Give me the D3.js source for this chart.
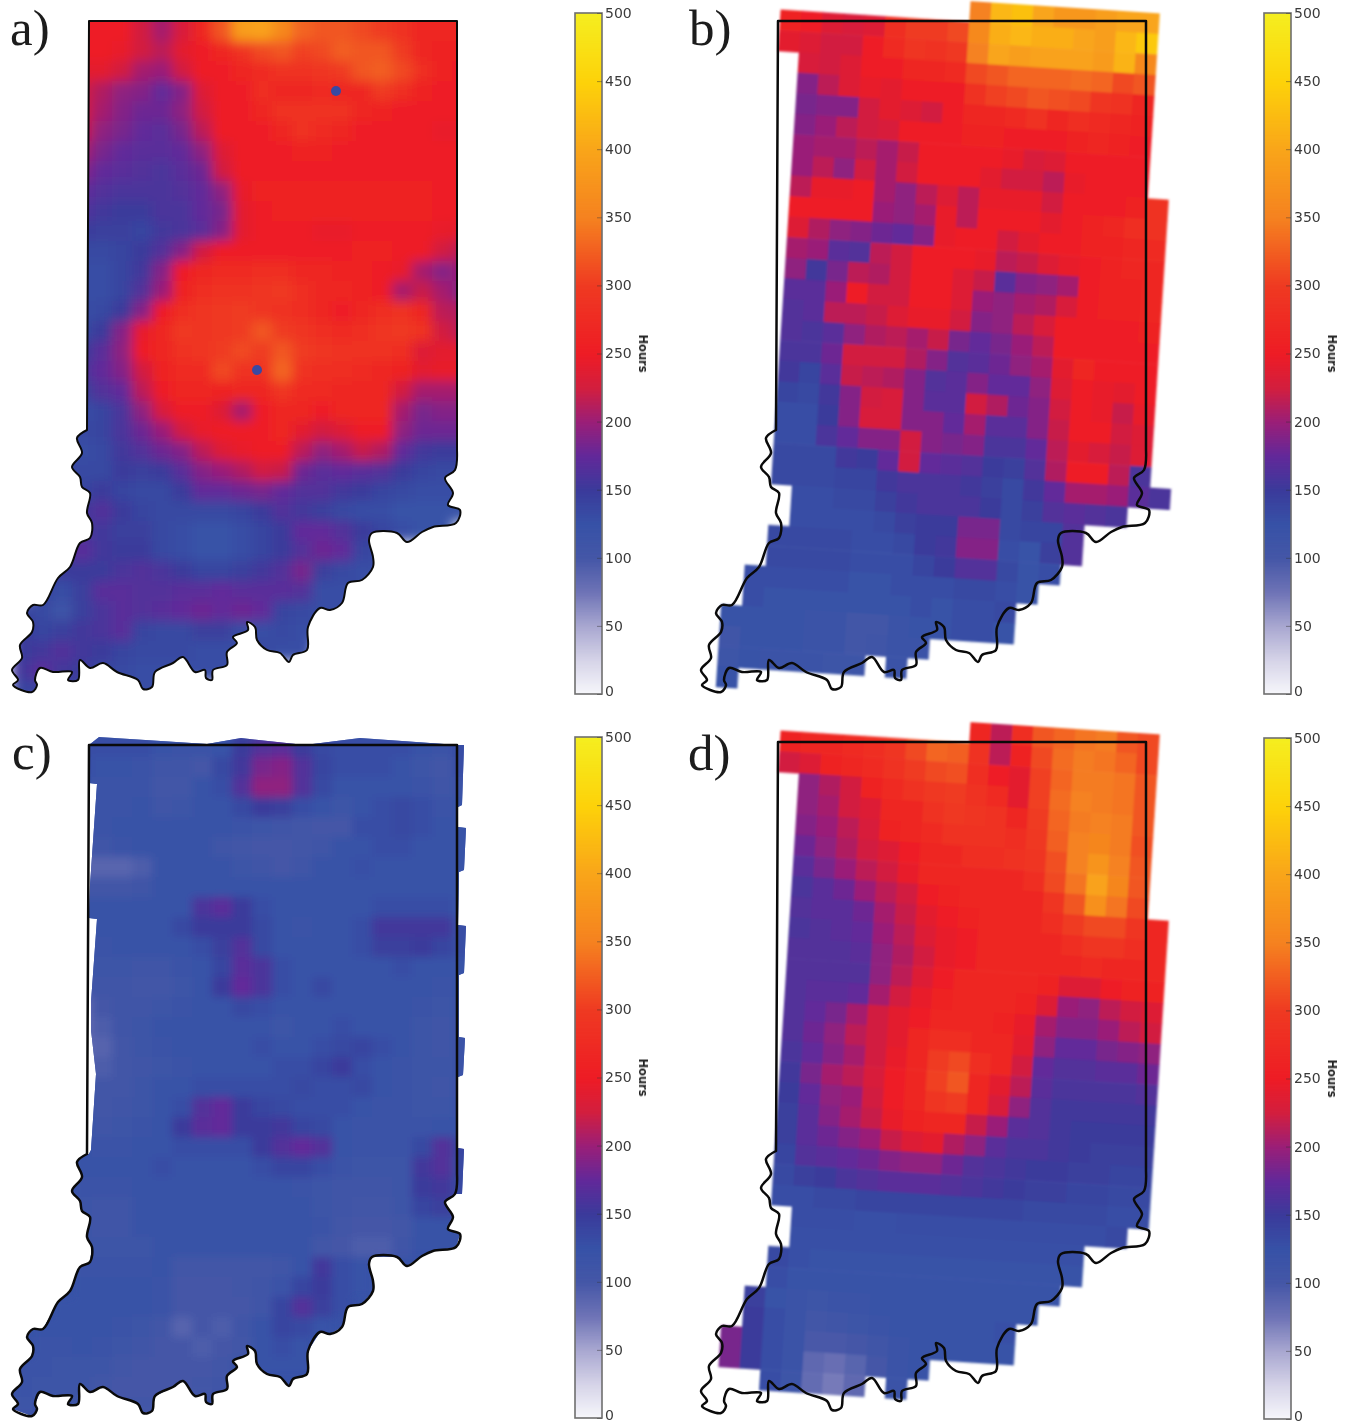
<!DOCTYPE html>
<html>
<head>
<meta charset="utf-8">
<script src="https://cdn.jsdelivr.net/npm/d3@7"></script>
<style>
	body { margin: 0; background: #fff; }
	svg { display: block; }
</style>
</head>
<body>
<script>
const n = null;

// colour bar
const barDomain = [0, 25, 50, 75, 100, 125, 150, 175, 200, 225, 250, 300, 350, 400, 450, 500];
const barColors = ["#f7f7fb", "#d6d4e8", "#a9a8d1", "#6f74b6", "#4557a7", "#3752a7", "#3b3b9b", "#62299a", "#9a1f78", "#d21f3f", "#ee1c25", "#ef3a22", "#f58220", "#f9a51a", "#fdd20a", "#f5ee20"];
const barTicks = [0, 50, 100, 150, 200, 250, 300, 350, 400, 450, 500];

// state border, in pixels from the north west corner
const border = [[0,0],[368,0],[368,429],[366,449],[356,457],[364,472],[359,484],[371,489],[367,502],[344,506],[333,511],[318,521],[308,512],[283,512],[280,519],[284,536],[284,546],[273,559],[259,562],[253,582],[241,589],[231,587],[219,606],[218,629],[204,634],[200,641],[191,632],[178,629],[168,619],[166,606],[158,601],[159,609],[144,616],[148,622],[138,631],[138,644],[124,649],[123,659],[117,657],[116,649],[106,651],[94,636],[84,642],[66,651],[63,666],[54,668],[49,659],[28,651],[14,642],[1,647],[-9,639],[-11,659],[-21,659],[-17,651],[-36,651],[-49,647],[-54,659],[-52,664],[-57,671],[-76,664],[-71,659],[-77,649],[-67,637],[-69,624],[-57,611],[-56,601],[-62,592],[-56,584],[-46,584],[-31,557],[-19,546],[-9,522],[1,517],[3,502],[-2,492],[1,472],[-7,466],[-9,456],[-17,446],[-7,432],[-12,417],[-2,409]];

// area with data north of the Ohio bend in panel c
const coverageC = [[0,0],[10,-8],[118,-1],[152,-7],[216,0],[271,-7],[369,0],[375,0],[373,60],[369,62],[369,82],[377,83],[375,125],[370,127],[369,180],[377,181],[375,228],[370,230],[370,292],[376,293],[374,330],[369,332],[369,403],[375,404],[373,449],[0,449],[0,409],[2,405],[7,329],[2,285],[2,257],[8,174],[0,173],[1,140],[8,39],[0,38]];

// the two small low spots in panel a: x, y, hours
const lowSpots = [[247,70,135],[168,349,135]];

// hours per cell, north to south, west to east
// the first row of panel a lies just north of the border, so the blur keeps the edge colour
const hoursA = [
	[n,n,255,255,255,250,225,205,230,270,320,390,395,360,330,320,320,310,300,285,270,265,265],
	[n,n,255,255,255,250,225,205,230,270,320,390,395,360,330,320,320,310,300,285,270,265,265],
	[n,n,255,255,255,245,225,215,240,255,265,285,310,320,305,310,325,320,320,300,270,260,260],
	[n,n,240,240,240,225,205,200,225,250,255,265,275,285,285,290,300,320,325,310,280,260,255],
	[n,n,225,225,210,195,190,175,190,235,255,255,280,270,270,275,270,270,300,280,260,255,255],
	[n,n,225,225,205,190,180,180,195,225,255,255,265,285,285,285,285,265,260,255,255,250,250],
	[n,n,220,220,195,185,175,170,185,215,255,255,255,270,285,275,265,255,255,255,255,245,245],
	[n,n,205,205,185,175,170,170,175,195,235,255,255,255,260,260,255,255,255,255,255,250,250],
	[n,n,190,190,175,170,165,160,170,180,225,255,255,255,255,255,255,255,255,255,255,255,255],
	[n,n,175,175,165,160,160,160,165,175,195,245,260,260,260,260,260,260,260,260,260,255,255],
	[n,n,165,165,155,150,150,160,160,175,185,240,255,260,260,260,260,260,260,260,260,250,250],
	[n,n,150,150,145,145,140,155,160,170,190,240,250,250,250,245,245,250,255,255,255,245,240],
	[n,n,135,135,135,140,150,165,190,225,250,255,255,255,255,255,255,260,260,255,250,225,215],
	[n,n,130,130,130,140,155,190,255,265,275,275,280,280,270,265,260,260,255,245,205,190,200],
	[n,n,130,130,130,140,165,200,260,280,285,285,290,295,280,270,265,260,255,205,220,205,190],
	[n,n,130,130,135,150,190,255,280,290,295,300,290,285,280,265,255,265,280,285,270,215,210],
	[n,n,135,135,150,190,245,270,295,290,295,300,320,300,290,280,275,280,290,295,285,225,215],
	[n,n,150,150,170,195,250,270,285,290,300,310,300,320,300,290,285,285,285,280,235,240,240],
	[n,n,160,160,175,190,225,260,275,275,310,285,285,330,285,280,280,275,270,260,240,245,245],
	[n,n,145,145,165,175,215,255,265,265,260,270,265,290,275,275,270,270,265,225,205,205,205],
	[n,n,130,130,140,160,195,230,255,255,235,205,250,265,270,255,270,265,265,205,185,190,190],
	[n,n,135,135,140,160,180,200,225,245,255,255,255,265,240,225,235,250,255,195,180,180,180],
	[n,n,130,130,135,155,165,180,190,215,235,245,255,250,215,195,205,220,210,175,155,150,150],
	[n,n,135,135,135,150,145,150,170,190,200,210,225,220,180,170,175,170,165,150,140,135,135],
	[n,n,140,140,150,140,135,135,150,175,175,180,185,175,165,165,155,150,140,135,130,130,130],
	[n,n,155,155,165,150,140,135,135,135,135,140,150,165,155,145,135,130,130,125,125,125,125],
	[n,n,160,160,155,145,145,135,130,125,125,130,140,150,175,175,165,150,140,130,125,125],
	[n,n,160,170,155,150,150,135,130,125,125,130,140,150,165,180,175,140,135],
	[n,150,150,150,150,160,165,160,150,140,140,145,155,165,185,145,135,130,130],
	[n,140,130,145,170,170,165,165,170,170,175,170,170,170,165,130,130,130],
	[140,135,115,145,160,170,165,170,175,180,175,180,175,140,135,130,130],
	[150,140,145,155,160,170,140,135,135,145,145,130,130,135,130,130],
	[150,155,165,155,150,140,135,135,135,130,130,130,135,130,130],
	[155,170,155,150,140,135,130,130,130,130,130,130],
	[140,140,140,135,135,130,130,130]
];

const hoursB = [
	[n,n,n,n,n,n,n,n,n,n,350,420,430,400,380,380,390,400,400],
	[n,260,255,235,230,235,280,300,300,310,360,410,420,410,410,400,390,420,440],
	[n,240,235,225,225,250,275,290,285,295,350,400,390,395,395,395,385,415,360],
	[n,n,230,225,235,255,255,270,265,275,310,320,330,330,330,335,330,310,320],
	[n,n,190,215,235,245,240,250,255,255,285,305,310,320,315,310,290,285,270],
	[n,n,185,190,190,225,240,235,225,250,265,265,275,285,270,280,275,265,260],
	[n,n,190,200,215,225,230,250,255,255,260,260,255,255,255,260,265,260,255],
	[n,n,200,205,205,215,205,220,255,255,255,250,245,230,235,250,255,255,255],
	[n,n,200,215,195,225,205,225,255,255,250,240,225,225,215,245,255,255,255],
	[n,n,215,245,245,250,205,195,215,235,215,245,245,245,225,250,255,255,260,285],
	[n,n,255,255,250,250,200,195,205,245,215,255,255,255,240,255,260,265,280,285],
	[n,n,235,210,195,190,180,175,190,245,250,255,225,240,250,255,260,260,270,275],
	[n,n,205,200,170,165,215,225,250,255,250,245,215,220,235,245,255,260,265,270],
	[n,n,195,155,185,215,210,225,255,255,235,220,170,190,195,205,255,260,260,265],
	[n,n,170,170,200,250,225,225,255,255,235,200,195,205,210,230,255,260,260,265],
	[n,n,165,170,215,215,220,235,245,245,225,190,195,215,230,255,255,255,255,260],
	[n,n,165,160,170,195,210,215,205,220,185,175,185,200,215,250,255,255,255,255],
	[n,n,160,160,180,225,225,225,210,190,165,170,180,195,205,240,265,255,250,255],
	[n,n,155,140,170,220,215,210,190,165,170,190,175,175,195,235,250,245,240,250],
	[n,n,140,135,155,190,225,230,190,170,170,225,210,180,190,225,250,245,220,245],
	[n,n,130,130,150,190,230,230,190,190,175,205,170,170,190,220,250,250,225,235],
	[n,n,130,130,160,175,190,190,225,190,185,190,160,160,175,215,240,230,220,235],
	[n,n,135,135,135,155,150,175,225,175,170,165,150,145,165,210,250,250,215,160],
	[n,n,135,135,135,140,140,155,160,160,160,155,145,135,155,175,205,205,200,170,160],
	[n,n,n,130,130,135,135,145,155,160,160,160,150,135,145,165,170,165,160],
	[n,n,n,130,130,130,130,135,145,150,150,185,185,135,140,140,165],
	[n,n,135,135,135,135,130,130,135,150,155,190,190,130,125,145,165],
	[n,n,135,135,135,135,130,130,130,140,150,165,165,135,125,130],
	[n,130,130,130,130,130,125,125,130,130,130,135,135,130,125],
	[n,130,125,125,125,125,125,125,125,130,125,130,130,135],
	[125,125,125,125,120,120,105,105,120,125,125,130,130,125],
	[110,125,125,125,120,120,105,110,120,120],
	[115,125,120,120,120,115,115,n,120],
	[125]
];

const hoursC = [
	[n,n,n,130,130,130,130,125,120,120,125,150,165,170,150,135,130,130,130,130,125,120,130],
	[n,n,n,130,125,125,120,110,110,100,135,155,185,190,165,140,130,130,130,125,115,105,130],
	[n,n,n,125,120,120,120,105,105,125,130,165,195,195,165,135,125,125,125,125,120,110,120],
	[n,n,n,125,120,120,125,110,115,125,125,135,150,145,130,125,115,125,130,135,130,120,125],
	[n,n,n,110,120,125,125,125,125,125,125,120,115,110,105,100,100,130,130,135,130,125,125],
	[n,n,n,105,110,120,125,125,125,125,110,105,100,100,105,110,125,125,130,130,125,125,125],
	[n,n,n,88,88,88,95,125,125,125,125,115,110,100,110,125,125,128,125,125,125,125,125],
	[n,n,n,105,105,105,110,125,125,125,125,125,125,125,125,125,125,125,125,125,125,125,125],
	[n,n,n,125,125,125,125,125,125,160,170,150,130,125,125,125,125,125,130,130,130,130,125],
	[n,n,n,125,125,125,125,125,135,150,150,150,135,125,120,125,125,130,155,155,155,155,130],
	[n,n,n,120,120,125,125,125,125,130,145,165,135,125,125,125,125,130,145,145,150,140,130],
	[n,n,n,115,115,115,110,110,120,125,140,170,160,130,125,125,125,125,125,130,125,125,125],
	[n,n,n,110,110,110,105,105,115,125,150,175,160,130,125,135,125,125,125,125,125,120,125],
	[n,n,n,85,100,110,110,115,120,125,125,135,130,125,125,125,125,125,125,125,120,115,125],
	[n,n,n,85,95,110,115,125,125,125,125,125,125,115,125,125,130,125,125,125,115,110,120],
	[n,n,n,85,90,105,115,120,125,125,125,125,130,125,125,130,135,140,130,125,115,110,120],
	[n,n,n,95,95,105,110,115,120,125,125,125,125,130,130,140,150,130,125,120,115,115,120],
	[n,n,n,125,105,105,115,125,125,130,130,130,130,130,135,130,130,135,125,120,115,110,120],
	[n,n,n,125,105,110,115,125,130,165,175,150,140,135,130,130,130,125,120,120,115,115,125],
	[n,n,n,125,110,115,120,125,150,170,175,150,150,155,140,135,125,120,120,120,120,125,125],
	[n,n,n,125,120,120,125,125,130,130,130,130,150,165,175,165,125,120,120,120,135,165,140],
	[n,n,n,125,125,125,125,130,125,125,125,125,130,140,140,130,120,115,115,115,155,165,135],
	[n,n,n,120,120,120,125,125,125,125,125,125,125,125,120,115,110,110,110,115,150,155,135],
	[n,n,n,115,110,110,125,125,125,125,125,125,125,125,125,115,110,105,105,115,140,145,135],
	[n,n,n,115,110,110,125,125,125,125,125,125,125,125,125,120,105,100,100,105,125,125,125],
	[n,n,n,115,115,115,115,125,125,125,125,125,125,125,125,105,100,95,95,110,125,125,125],
	[n,n,n,120,120,120,120,125,105,105,105,105,105,110,125,155,130,125],
	[n,n,n,125,125,125,125,120,100,100,100,105,110,120,140,150,130,125],
	[n,n,125,125,125,125,125,120,100,100,100,100,110,140,165,145,130],
	[n,125,125,125,125,120,115,105,90,100,95,110,125,140,135,125],
	[n,120,120,125,120,115,110,100,100,95,100,105,125,130,125],
	[120,120,115,115,115,105,100,100,100,100,105,125,125,125,125],
	[120,115,115,115,105,100,100,100,100,105,110],
	[115,120,120,115,105,105,105,105,105]
];

const hoursD = [
	[n,n,n,n,n,n,n,n,n,n,270,215,280,320,330,340,345,320,310],
	[n,260,265,270,275,280,290,310,330,325,285,215,260,310,335,345,340,330,310],
	[n,225,235,260,265,275,285,300,310,315,280,250,240,305,330,345,345,340,320],
	[n,n,195,210,225,260,275,285,295,300,285,275,240,305,335,350,345,340,320],
	[n,n,195,205,225,235,265,270,285,295,290,285,270,300,330,345,350,345,320],
	[n,n,190,200,215,230,260,265,275,285,285,285,280,295,325,350,355,345,315],
	[n,n,180,195,210,225,235,250,265,270,280,280,285,290,315,350,375,350,320],
	[n,n,170,185,200,215,225,245,265,265,265,270,270,280,310,340,395,355,320],
	[n,n,160,170,180,200,215,225,250,260,265,270,270,270,290,320,370,340,310],
	[n,n,165,170,170,180,205,220,240,250,260,265,265,265,280,300,310,310,290,270],
	[n,n,160,165,170,175,200,215,235,245,255,265,265,265,270,280,290,290,280,270],
	[n,n,165,165,165,170,195,210,225,245,255,265,265,265,265,265,275,265,265,265],
	[n,n,165,165,165,165,195,215,235,255,265,265,265,265,260,235,235,250,260,260],
	[n,n,165,170,170,175,205,225,245,260,265,265,265,260,235,200,195,215,225,235],
	[n,n,165,175,185,205,225,240,255,265,265,265,260,245,205,190,190,200,215,225],
	[n,n,165,180,195,215,225,240,265,280,280,270,265,240,195,175,175,185,190,195],
	[n,n,160,175,190,205,225,245,270,300,310,280,265,225,175,165,165,170,170,180],
	[n,n,155,185,205,215,230,250,270,305,320,270,240,215,170,160,160,160,160,165],
	[n,n,150,175,195,200,225,250,265,290,300,265,230,195,165,155,155,155,155,155],
	[n,n,145,170,190,205,220,245,260,265,265,220,200,170,165,155,150,150,150,150],
	[n,n,145,170,180,190,200,220,235,240,210,195,170,160,160,155,150,145,145,145],
	[n,n,140,165,170,175,180,190,195,195,180,165,160,155,150,150,145,145,140,140],
	[n,n,135,145,150,160,165,170,170,170,165,160,155,150,145,145,140,140,135,135],
	[n,n,130,130,135,135,140,140,140,140,140,140,140,140,135,135,135,135,130,130],
	[n,n,n,130,130,130,128,128,130,130,130,130,130,130,130,130,130,130,135],
	[n,n,n,128,128,128,128,128,128,128,128,128,128,128,128,128,128],
	[n,n,135,128,125,125,125,125,125,125,125,125,125,125,125,125,125],
	[n,n,130,125,125,125,125,125,125,125,125,125,125,125,125,125],
	[n,145,125,118,115,118,120,125,125,125,125,125,125,125,125],
	[n,150,130,120,105,110,115,120,125,125,125,125,125,128],
	[185,150,130,120,98,98,102,110,120,125,125,125,125,125],
	[185,150,130,120,85,80,88,100,120,125],
	[n,n,130,115,82,72,85,n,120]
];

const width = 1351;
const height = 1424;

const color = d3.scaleLinear().domain(barDomain).range(barColors).clamp(true);

const svg = d3
	.select("body")
	.append("svg")
	.attr("width", width)
	.attr("height", height)
	.style("background-color", "#fff");

const defs = svg.append("defs");

const addBlur = (id, amount) => {
	defs
		.append("filter")
		.attr("id", id)
		.attr("x", "-5%")
		.attr("y", "-5%")
		.attr("width", "110%")
		.attr("height", "110%")
		.append("feGaussianBlur")
		.attr("stdDeviation", amount);
};
addBlur("blurWide", 6);
addBlur("blurMid", 4);
addBlur("blurSoft", 1.1);
addBlur("blurText", 0.35);

// straight along the north and east edges, smooth along the rivers
const riverLine = d3.line().curve(d3.curveCatmullRom.alpha(0.5));
const straightLine = d3.line();
const borderPath = () =>
	straightLine(border.slice(0, 3)) + "L" + riverLine(border.slice(2)).slice(1) + "Z";

const toCells = (grid) =>
	grid
		.flatMap((row, r) => row.map((v, c) => ({ r, c, v })))
		.filter((d) => d.v !== null);

const drawCells = (parent, grid, x, y) => {
	parent
		.selectAll("rect")
		.data(toCells(grid))
		.join("rect")
		.attr("x", (d) => x(d.c))
		.attr("y", (d) => y(d.r))
		.attr("width", x.bandwidth() + 0.6)
		.attr("height", y.bandwidth() + 0.6)
		.attr("fill", (d) => color(d.v));
};

const drawBorder = (parent, cornerX, cornerY, strokeWidth) => {
	parent
		.append("path")
		.attr("transform", `translate(${cornerX},${cornerY})`)
		.attr("d", borderPath())
		.attr("fill", "none")
		.attr("stroke", "#0a0a0a")
		.attr("stroke-width", strokeWidth)
		.attr("stroke-linejoin", "round");
};

const drawColorbar = (left, top, label) => {
	const barHeight = 681;
	const barWidth = 27;
	const barY = d3.scaleLinear().domain([0, 500]).range([barHeight, 0]);
	const g = svg.append("g").attr("transform", `translate(${left},${top})`);

	g.selectAll("rect")
		.data(d3.range(0, 500))
		.join("rect")
		.attr("x", 0)
		.attr("y", (d) => barY(d + 1))
		.attr("width", barWidth)
		.attr("height", (d) => (d === 0 ? barHeight / 500 : barHeight / 500 + 1))
		.attr("fill", (d) => color(d + 0.5));

	g.append("rect")
		.attr("width", barWidth)
		.attr("height", barHeight)
		.attr("fill", "none")
		.attr("stroke", "#6f6f6f")
		.attr("stroke-width", 1.6);

	const axis = g
		.append("g")
		.attr("transform", `translate(${barWidth},0)`)
		.attr("filter", "url(#blurText)")
		.call(
			d3.axisRight(barY).tickValues(barTicks).tickSizeInner(-5).tickSizeOuter(0).tickPadding(3)
		);
	axis.select(".domain").remove();
	axis.selectAll("line").attr("stroke", "#333").attr("stroke-opacity", 0.45);
	axis
		.selectAll("text")
		.attr("font-family", "DejaVu Sans")
		.attr("font-size", 14)
		.attr("fill", "#3a3a3a");
	axis
		.selectAll("text")
		.filter((d) => d === 0)
		.attr("dy", "0.13em");

	g.append("text")
		.attr("transform", `translate(64,${barHeight * 0.5}) rotate(90)`)
		.attr("text-anchor", "middle")
		.attr("font-family", "DejaVu Sans")
		.attr("font-weight", "bold")
		.attr("font-size", 11.5)
		.attr("fill", "#222")
		.attr("filter", "url(#blurText)")
		.text(label);
};

const drawLetter = (x, y, letter) => {
	svg
		.append("text")
		.attr("x", x)
		.attr("y", y)
		.attr("font-family", "Liberation Serif")
		.attr("font-size", 51)
		.attr("fill", "#1c1c1c")
		.text(letter);
};

// fine panels a and c, unrotated cells
const fineX = d3.scaleBand().domain(d3.range(23)).range([12, 472]);
const fineRowsA = d3.scaleBand().domain(d3.range(35)).range([1, 701]);
const fineRowsC = d3.scaleBand().domain(d3.range(34)).range([737, 1417]);

// panel a
defs
	.append("clipPath")
	.attr("id", "clipA")
	.append("path")
	.attr("transform", "translate(89,21)")
	.attr("d", borderPath());

const panelA = svg.append("g").attr("clip-path", "url(#clipA)");
drawCells(panelA.append("g").attr("filter", "url(#blurWide)"), hoursA, fineX, fineRowsA);

panelA
	.append("g")
	.attr("transform", "translate(89,21)")
	.selectAll("circle")
	.data(lowSpots)
	.join("circle")
	.attr("cx", (d) => d[0])
	.attr("cy", (d) => d[1])
	.attr("r", 5)
	.attr("fill", (d) => color(d[2]));

drawBorder(svg, 89, 21, 2);

// coarse panels b and d sit on a slightly rotated grid
const coarseX = d3.scaleBand().domain(d3.range(21)).range([0, 441]);
const coarseY = d3.scaleBand().domain(d3.range(34)).range([0, 700.4]);

const panelB = svg
	.append("g")
	.attr("filter", "url(#blurSoft)")
	.attr("transform", "translate(761,-12.4) rotate(3.7)");
drawCells(panelB, hoursB, coarseX, coarseY);
drawBorder(svg, 778, 21, 2.5);

const panelD = svg
	.append("g")
	.attr("filter", "url(#blurSoft)")
	.attr("transform", "translate(761,708.6) rotate(3.7)");
drawCells(panelD, hoursD, coarseX, coarseY);
drawBorder(svg, 778, 742, 2.5);

// panel c
const clipC = defs.append("clipPath").attr("id", "clipC");
clipC
	.append("path")
	.attr("transform", "translate(89,745)")
	.attr("d", straightLine(coverageC) + "Z");
clipC
	.append("path")
	.attr("transform", "translate(89,745)")
	.attr("d", straightLine(border.filter((p) => p[1] >= 405)) + "Z");

const panelC = svg.append("g").attr("clip-path", "url(#clipC)");
panelC
	.append("rect")
	.attr("x", fineX.range()[0])
	.attr("y", fineRowsC.range()[0])
	.attr("width", fineX.range()[1] - fineX.range()[0])
	.attr("height", fineRowsC.range()[1] - fineRowsC.range()[0])
	.attr("fill", color(125));
drawCells(panelC.append("g").attr("filter", "url(#blurMid)"), hoursC, fineX, fineRowsC);
drawBorder(svg, 89, 745, 2.5);

drawColorbar(575, 13, "Hours");
drawColorbar(1264, 13, "Hours");
drawColorbar(575, 737, "Hours");
drawColorbar(1264, 738, "Hours");

drawLetter(10, 45, "a)");
drawLetter(689, 45, "b)");
drawLetter(12, 769, "c)");
drawLetter(688, 770, "d)");
</script>
</body>
</html>
